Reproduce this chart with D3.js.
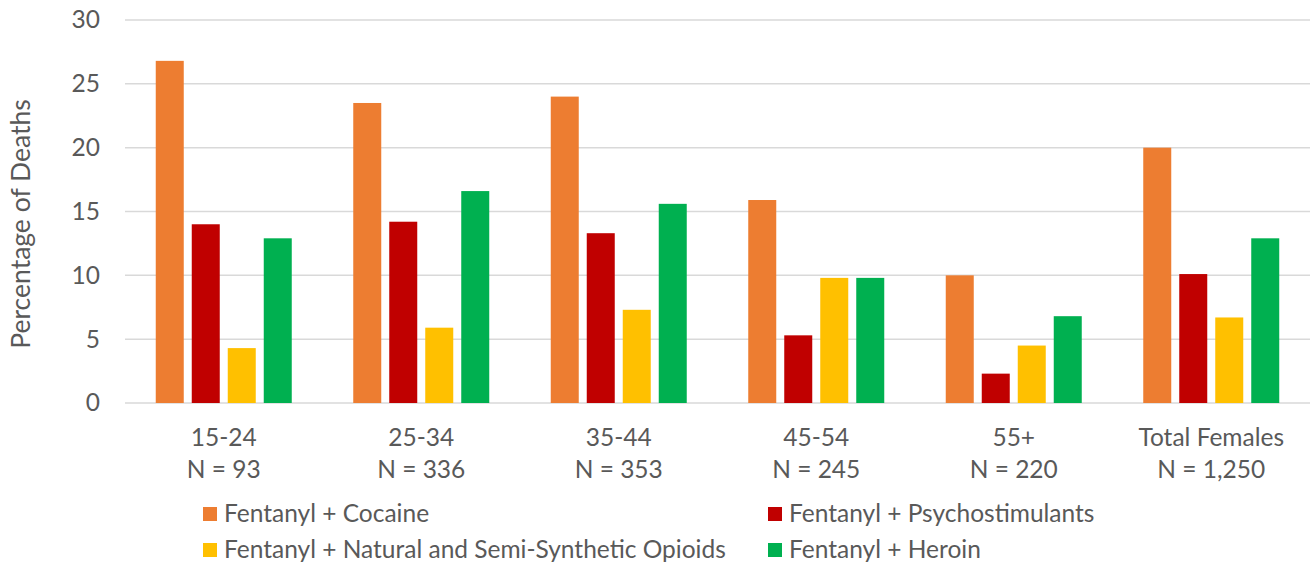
<!DOCTYPE html>
<html>
<head>
<meta charset="utf-8">
<script src="https://cdn.jsdelivr.net/npm/d3@7"></script>
<style>
  html, body { margin: 0; padding: 0; background: #fff; }
  svg { display: block; }
  text { font-family: Lato, "Open Sans", sans-serif; fill: #595959; }
</style>
</head>
<body>
<svg id="chart" width="1310" height="563"></svg>
<script>
// Age groups and their sample sizes
const ageGroups = ["15-24", "25-34", "35-44", "45-54", "55+", "Total Females"];
const sampleSizes = ["N = 93", "N = 336", "N = 353", "N = 245", "N = 220", "N = 1,250"];

// Percentage of deaths by drug combination
const seriesNames = [
  "Fentanyl + Cocaine",
  "Fentanyl + Psychostimulants",
  "Fentanyl + Natural and Semi-Synthetic Opioids",
  "Fentanyl + Heroin"
];
const cocaine = [26.8, 23.5, 24.0, 15.9, 10.0, 20.0];
const psychostimulants = [14.0, 14.2, 13.3, 5.3, 2.3, 10.1];
const naturalSemiSynthetic = [4.3, 5.9, 7.3, 9.8, 4.5, 6.7];
const heroin = [12.9, 16.6, 15.6, 9.8, 6.8, 12.9];
const seriesColors = ["#ED7D31", "#C00000", "#FFC000", "#00B050"];
const yTicks = [0, 5, 10, 15, 20, 25, 30];

const seriesValues = [cocaine, psychostimulants, naturalSemiSynthetic, heroin];

const svg = d3.select("#chart");
const plot = { left: 125, right: 1310, top: 20, bottom: 403 };
const fontSize = 24.5;

const x0 = d3.scaleBand().domain(ageGroups).range([plot.left, plot.right]).padding(0);
const y = d3.scaleLinear().domain([0, 30]).range([plot.bottom, plot.top]);
const x1 = d3.scaleBand().domain(seriesNames).range([-68, 68]).paddingInner(8 / 36).paddingOuter(0);

// Horizontal gridlines
svg.append("g")
  .selectAll("line")
  .data(yTicks)
  .join("line")
  .attr("x1", plot.left)
  .attr("x2", plot.right)
  .attr("y1", d => y(d))
  .attr("y2", d => y(d))
  .attr("stroke", "#d9d9d9")
  .attr("stroke-width", 1.5);

// Y axis tick labels
const yAxis = d3.axisLeft(y).tickValues(yTicks).tickSize(0).tickPadding(0);
const yg = svg.append("g").attr("transform", `translate(100,0)`).call(yAxis);
yg.select(".domain").remove();
yg.selectAll("text")
  .attr("font-size", fontSize)
  .attr("fill", "#595959")
  .style("font-family", "Lato, 'Open Sans', sans-serif");

// Y axis title
svg.append("text")
  .attr("transform", `translate(30,224) rotate(-90)`)
  .attr("text-anchor", "middle")
  .attr("font-size", 26.5)
  .text("Percentage of Deaths");

// Bars
const groups = svg.append("g")
  .selectAll("g")
  .data(ageGroups)
  .join("g")
  .attr("transform", d => `translate(${x0(d) + x0.bandwidth() / 2},0)`);

groups.selectAll("rect")
  .data((g, gi) => seriesNames.map((s, si) => ({ s, si, v: seriesValues[si][gi] })))
  .join("rect")
  .attr("x", d => x1(d.s))
  .attr("width", x1.bandwidth())
  .attr("y", d => y(d.v))
  .attr("height", d => y(0) - y(d.v))
  .attr("fill", d => seriesColors[d.si]);

// Category labels (two lines)
const xg = svg.append("g");
xg.selectAll("text.cat")
  .data(ageGroups)
  .join("text")
  .attr("class", "cat")
  .attr("x", d => x0(d) + x0.bandwidth() / 2)
  .attr("y", 446)
  .attr("text-anchor", "middle")
  .attr("font-size", fontSize)
  .text(d => d);
xg.selectAll("text.n")
  .data(sampleSizes)
  .join("text")
  .attr("class", "n")
  .attr("x", (d, i) => x0(ageGroups[i]) + x0.bandwidth() / 2)
  .attr("y", 478)
  .attr("text-anchor", "middle")
  .attr("font-size", fontSize)
  .text(d => d);

// Legend: two columns, two rows
const legendPos = [
  { x: 203, y: 514 },
  { x: 768, y: 514 },
  { x: 203, y: 550 },
  { x: 768, y: 550 }
];
const legend = svg.append("g")
  .selectAll("g")
  .data(seriesNames)
  .join("g")
  .attr("transform", (d, i) => `translate(${legendPos[i].x},${legendPos[i].y})`);
legend.append("rect")
  .attr("x", 0)
  .attr("y", -7)
  .attr("width", 14)
  .attr("height", 14)
  .attr("fill", (d, i) => seriesColors[i]);
legend.append("text")
  .attr("x", 21)
  .attr("y", 8)
  .attr("font-size", fontSize)
  .text(d => d);
</script>
</body>
</html>
